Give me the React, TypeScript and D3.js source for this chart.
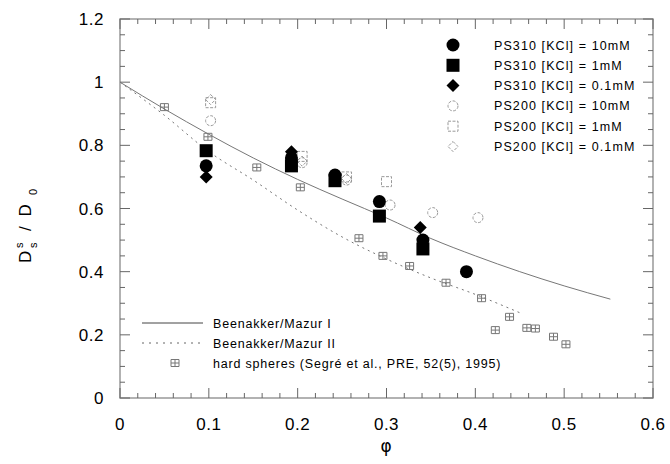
import React from "react";
import * as d3 from "d3";

// ---- data ----
const xTickLabels = ["0", "0.1", "0.2", "0.3", "0.4", "0.5", "0.6"];
const yTickLabels = ["0", "0.2", "0.4", "0.6", "0.8", "1", "1.2"];

// PS310 (filled)
const ps310_10mM: [number, number][] = [
  [0.097, 0.735], [0.193, 0.76], [0.242, 0.706], [0.292, 0.622], [0.341, 0.5], [0.39, 0.4],
];
const ps310_1mM: [number, number][] = [
  [0.097, 0.783], [0.193, 0.735], [0.242, 0.688], [0.292, 0.576], [0.341, 0.472],
];
const ps310_01mM: [number, number][] = [
  [0.097, 0.7], [0.193, 0.78], [0.338, 0.54],
];
// PS200 (open)
const ps200_10mM: [number, number][] = [
  [0.102, 0.878], [0.205, 0.745], [0.255, 0.69], [0.304, 0.611], [0.352, 0.587], [0.403, 0.571],
];
const ps200_1mM: [number, number][] = [
  [0.102, 0.935], [0.205, 0.765], [0.255, 0.7], [0.3, 0.685],
];
const ps200_01mM: [number, number][] = [
  [0.102, 0.945], [0.205, 0.75], [0.255, 0.695],
];
// hard spheres (Segré et al.)
const hardSpheres: [number, number][] = [
  [0.05, 0.921], [0.099, 0.827], [0.154, 0.73], [0.203, 0.667], [0.269, 0.506],
  [0.296, 0.45], [0.326, 0.418], [0.367, 0.365], [0.407, 0.316], [0.4225, 0.215],
  [0.4385, 0.257], [0.458, 0.222], [0.4676, 0.22], [0.488, 0.194], [0.502, 0.17],
];
// theory curves (sampled)
const bmI_phi = [0, 0.05, 0.1, 0.15, 0.2, 0.25, 0.3, 0.35, 0.4, 0.45, 0.5, 0.552];
const bmI_D = [1.0, 0.915, 0.835, 0.76, 0.692, 0.63, 0.57, 0.505, 0.45, 0.4, 0.355, 0.313];
const bmII_phi = [0, 0.05, 0.1, 0.15, 0.2, 0.25, 0.3, 0.35, 0.4, 0.45];
const bmII_D = [1.0, 0.895, 0.78, 0.69, 0.595, 0.51, 0.44, 0.38, 0.328, 0.27];

const legendLabels = [
  "PS310 [KCl] = 10mM",
  "PS310 [KCl] = 1mM",
  "PS310 [KCl] = 0.1mM",
  "PS200 [KCl] = 10mM",
  "PS200 [KCl] = 1mM",
  "PS200 [KCl] = 0.1mM",
];
const curveLabels = ["Beenakker/Mazur I", "Beenakker/Mazur II"];
const hsLabel = "hard spheres (Segré et al., PRE, 52(5), 1995)";

const W = 670, H = 464;
const L = 120, R = 653, T = 19, B = 398;
const FONT = "'Liberation Sans', Arial, Helvetica, sans-serif";

const x = d3.scaleLinear().domain([0, 0.6]).range([L, R]);
const y = d3.scaleLinear().domain([0, 1.2]).range([B, T]);

type Kind = "fcircle" | "fsquare" | "fdiamond" | "ocircle" | "osquare" | "odiamond";

function Marker({ kind, cx, cy }: { kind: Kind; cx: number; cy: number }) {
  const open = { fill: "none", stroke: "#999", strokeWidth: 1, strokeDasharray: "3,1.5" };
  switch (kind) {
    case "fcircle":
      return <circle cx={cx} cy={cy} r={6.5} fill="#000" />;
    case "fsquare":
      return <rect x={cx - 6.5} y={cy - 6.5} width={13} height={13} fill="#000" />;
    case "fdiamond":
      return <path d={`M${cx},${cy - 6.5}L${cx + 6.5},${cy}L${cx},${cy + 6.5}L${cx - 6.5},${cy}Z`} fill="#000" />;
    case "ocircle":
      return <circle cx={cx} cy={cy} r={5} {...open} />;
    case "osquare":
      return <rect x={cx - 5} y={cy - 5} width={10} height={10} {...open} />;
    case "odiamond":
      return <path d={`M${cx},${cy - 5}L${cx + 5},${cy}L${cx},${cy + 5}L${cx - 5},${cy}Z`} {...open} />;
  }
}

function HS({ cx, cy }: { cx: number; cy: number }) {
  const w = 4, h = 3.5;
  return (
    <g stroke="#777" strokeWidth={1} fill="none">
      <line x1={cx - w} x2={cx + w} y1={cy} y2={cy} />
      <line x1={cx - w} x2={cx - w} y1={cy - h} y2={cy + h} />
      <line x1={cx + w} x2={cx + w} y1={cy - h} y2={cy + h} />
      <line x1={cx} x2={cx} y1={cy - h} y2={cy + h} />
      <line x1={cx - w} x2={cx + w} y1={cy - h} y2={cy - h} />
      <line x1={cx - w} x2={cx + w} y1={cy + h} y2={cy + h} />
    </g>
  );
}

export default function App() {
  const xMinor = d3.range(0, 0.6001, 0.02);
  const yMinor = d3.range(0, 1.2001, 0.05);
  const isMajorX = (v: number) => Math.abs(v * 10 - Math.round(v * 10)) < 1e-6;
  const isMajorY = (v: number) => Math.abs(v * 5 - Math.round(v * 5)) < 1e-6;

  const lineGen = d3.line<[number, number]>().x((d) => x(d[0])).y((d) => y(d[1])).curve(d3.curveMonotoneX);
  const curveI = bmI_phi.map((p, i) => [p, bmI_D[i]] as [number, number]);
  const curveII = bmII_phi.map((p, i) => [p, bmII_D[i]] as [number, number]);

  const series: { kind: Kind; data: [number, number][] }[] = [
    { kind: "ocircle", data: ps200_10mM },
    { kind: "osquare", data: ps200_1mM },
    { kind: "odiamond", data: ps200_01mM },
    { kind: "fcircle", data: ps310_10mM },
    { kind: "fsquare", data: ps310_1mM },
    { kind: "fdiamond", data: ps310_01mM },
  ];
  const legendKinds: Kind[] = ["fcircle", "fsquare", "fdiamond", "ocircle", "osquare", "odiamond"];

  return (
    <svg width={W} height={H} style={{ position: "absolute", left: 0, top: 0, background: "#fff" }} fontFamily={FONT}>
      <rect x={0} y={0} width={W} height={H} fill="#fff" />
      {/* frame */}
      <rect x={L} y={T} width={R - L} height={B - T} fill="none" stroke="#999" strokeWidth={1.5} />
      {/* ticks */}
      <g stroke="#666" strokeWidth={1}>
        {xMinor.map((v, i) => {
          const len = isMajorX(v) ? 10 : 5;
          const px = x(v);
          return (
            <g key={"xt" + i}>
              <line x1={px} x2={px} y1={B} y2={B - len} />
              <line x1={px} x2={px} y1={T} y2={T + len} />
            </g>
          );
        })}
        {yMinor.map((v, i) => {
          const len = isMajorY(v) ? 10 : 5;
          const py = y(v);
          return (
            <g key={"yt" + i}>
              <line x1={L} x2={L + len} y1={py} y2={py} />
              <line x1={R} x2={R - len} y1={py} y2={py} />
            </g>
          );
        })}
      </g>
      {/* tick labels */}
      <g fontSize={17} fill="#000" letterSpacing={0.5}>
        {xTickLabels.map((t, i) => (
          <text key={"xl" + i} x={x(i * 0.1)} y={430} textAnchor="middle">{t}</text>
        ))}
        {yTickLabels.map((t, i) => (
          <text key={"yl" + i} x={104} y={y(i * 0.2) + 6} textAnchor="end">{t}</text>
        ))}
      </g>
      {/* axis titles */}
      <text x={386} y={452} textAnchor="middle" fontSize={17} fontFamily="'DejaVu Sans', sans-serif">φ</text>
      <g transform="translate(31,223) rotate(-90)" fontSize={17} fill="#000">
        <text x={-40} y={0}>D</text>
        <text x={-25} y={-8} fontSize={11}>s</text>
        <text x={-25} y={6} fontSize={11}>s</text>
        <text x={-8} y={0} letterSpacing={2.5}>/ D</text>
        <text x={28} y={6} fontSize={11}>0</text>
      </g>
      {/* curves */}
      <path d={lineGen(curveI) || ""} fill="none" stroke="#777" strokeWidth={1} />
      <path d={lineGen(curveII) || ""} fill="none" stroke="#777" strokeWidth={1} strokeDasharray="2,4" />
      {/* hard spheres */}
      {hardSpheres.map((d, i) => <HS key={"hs" + i} cx={x(d[0])} cy={y(d[1])} />)}
      {/* data */}
      {series.map((s, si) =>
        s.data.map((d, i) => <Marker key={si + "-" + i} kind={s.kind} cx={x(d[0])} cy={y(d[1])} />)
      )}
      {/* legend (upper right) */}
      <g fontSize={12.5} fill="#000" letterSpacing={1.1}>
        {legendLabels.map((lab, i) => {
          const ly = 45 + i * 20.3;
          return (
            <g key={"lg" + i}>
              <Marker kind={legendKinds[i]} cx={453} cy={ly} />
              <text x={494} y={ly + 4.5}>{lab}</text>
            </g>
          );
        })}
      </g>
      {/* legend (lower left) */}
      <g fontSize={12.5} fill="#000" letterSpacing={0.8}>
        <line x1={142} x2={203} y1={323} y2={323} stroke="#444" strokeWidth={1} />
        <text x={213} y={327.5}>{curveLabels[0]}</text>
        <line x1={142} x2={203} y1={343} y2={343} stroke="#666" strokeWidth={1} strokeDasharray="2,5" />
        <text x={213} y={347.5}>{curveLabels[1]}</text>
        <HS cx={175} cy={363} />
        <text x={213} y={367.5}>{hsLabel}</text>
      </g>
    </svg>
  );
}
